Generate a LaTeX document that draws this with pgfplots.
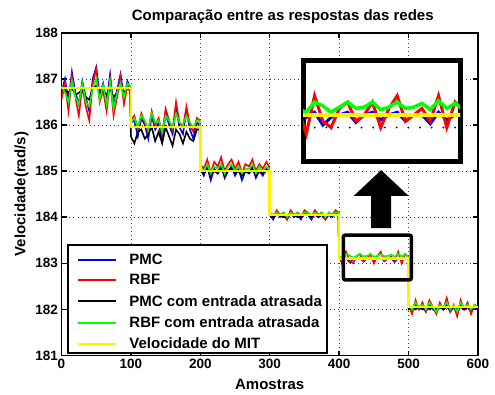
\documentclass[border=0pt]{standalone}
\usepackage{fontspec}
\setmainfont{Liberation Sans}
\usepackage{pgfplots}
\usepackage{pgfplotstable}
\pgfplotsset{compat=1.18}

\pgfplotstableread{
x pmc rbf pmcd rbfd
0 186.70 186.55 186.80 186.85
5 187.00 186.90 186.75 186.70
10 186.50 186.30 186.70 186.50
15 187.15 187.05 186.80 186.95
20 186.70 186.60 186.65 186.60
25 186.45 186.20 186.70 186.45
30 186.95 186.85 186.75 186.90
35 186.60 186.40 186.60 186.50
40 186.30 186.10 186.55 186.40
45 187.00 186.90 186.80 186.80
50 187.25 187.20 186.85 187.00
55 186.65 186.50 186.70 186.55
60 186.90 186.75 186.75 186.85
65 186.50 186.30 186.65 186.45
70 187.10 187.00 186.80 186.95
75 186.40 186.20 186.60 186.35
80 186.75 186.60 186.70 186.70
85 187.10 187.05 186.85 186.90
90 186.60 186.45 186.70 186.60
95 186.95 186.85 186.80 186.90
99 186.80 186.70 186.80 186.85
100 186.05 186.10 185.75 186.05
105 186.10 186.20 185.60 186.15
110 185.75 185.90 185.85 185.95
115 186.15 186.25 185.90 186.20
120 186.00 186.05 185.70 186.10
125 185.70 185.85 185.80 185.90
130 186.20 186.30 185.95 186.25
135 185.90 186.00 185.65 186.05
140 186.05 186.15 185.85 186.10
145 185.65 185.80 185.60 185.85
150 186.25 186.35 185.95 186.20
155 186.00 186.10 185.75 186.10
160 185.80 185.90 185.55 185.95
165 186.35 186.50 185.90 186.25
170 185.95 186.05 185.80 186.05
175 185.80 185.95 185.60 186.00
180 186.30 186.40 185.85 186.20
185 185.90 186.00 185.70 186.05
190 185.70 185.85 185.65 185.95
195 186.05 186.15 185.90 186.10
199 186.00 186.10 185.90 186.10
200 185.05 185.15 185.00 185.10
205 184.90 185.05 184.95 185.00
210 185.10 185.25 185.05 185.15
215 184.80 184.95 184.90 184.95
220 185.05 185.20 185.00 185.10
225 184.95 185.10 184.95 185.05
230 185.15 185.30 185.05 185.15
235 184.85 185.00 184.90 184.95
240 185.00 185.15 185.00 185.10
245 185.10 185.25 185.05 185.15
250 184.90 185.05 184.95 185.00
255 185.05 185.20 185.00 185.10
260 184.80 184.95 184.90 184.95
265 185.00 185.15 185.00 185.05
270 184.95 185.10 184.95 185.05
275 185.10 185.25 185.05 185.15
280 184.85 185.00 184.90 184.95
285 185.00 185.15 185.00 185.10
290 184.90 185.05 184.95 185.00
295 185.05 185.20 185.00 185.10
299 185.00 185.10 185.00 185.05
300 184.05 184.10 184.05 184.10
305 183.95 184.00 184.00 184.05
310 184.10 184.15 184.05 184.10
315 184.00 184.05 184.05 184.05
320 184.05 184.10 184.00 184.10
325 183.95 183.95 184.00 184.00
330 184.10 184.15 184.05 184.10
335 184.00 184.05 184.05 184.05
340 184.05 184.10 184.00 184.10
345 183.95 184.00 184.00 184.05
350 184.10 184.15 184.05 184.10
355 184.05 184.10 184.05 184.10
360 183.95 184.00 184.00 184.05
365 184.10 184.15 184.05 184.10
370 184.00 184.05 184.00 184.05
375 184.05 184.10 184.05 184.10
380 183.95 183.95 184.00 184.00
385 184.05 184.10 184.05 184.10
390 184.00 184.05 184.05 184.05
395 184.10 184.15 184.05 184.10
399 184.05 184.10 184.05 184.10
400 183.10 183.15 183.10 183.15
405 183.08 182.95 183.10 183.12
410 183.12 183.25 183.10 183.20
415 183.02 183.05 183.10 183.17
420 183.08 183.00 183.10 183.12
425 183.10 183.15 183.10 183.16
430 183.12 183.20 183.10 183.20
435 183.04 183.05 183.10 183.15
440 183.10 183.10 183.10 183.16
445 183.12 183.20 183.10 183.20
450 183.06 183.00 183.10 183.14
455 183.10 183.15 183.10 183.16
460 183.12 183.25 183.10 183.20
465 183.05 183.05 183.10 183.15
470 183.10 183.10 183.10 183.16
475 183.10 183.15 183.10 183.19
480 183.03 183.05 183.10 183.14
485 183.12 183.25 183.10 183.21
490 183.06 183.00 183.10 183.15
495 183.10 183.20 183.10 183.19
499 183.10 183.15 183.10 183.15
500 182.05 182.10 182.00 182.10
505 181.95 181.90 182.05 182.00
510 182.10 182.20 182.00 182.15
515 182.00 182.00 182.05 182.05
520 182.05 182.15 182.00 182.10
525 181.95 181.95 182.05 182.00
530 182.10 182.20 182.00 182.15
535 182.00 182.05 182.05 182.05
540 181.95 181.90 182.00 181.95
545 182.05 182.15 182.05 182.10
550 182.00 182.00 182.00 182.05
555 182.10 182.25 182.05 182.15
560 181.95 181.95 182.00 182.00
565 182.05 182.10 182.05 182.10
570 181.90 181.85 182.00 181.95
575 182.10 182.20 182.05 182.15
580 182.00 182.00 182.00 182.05
585 182.05 182.15 182.05 182.10
590 181.95 181.90 182.00 182.00
595 182.05 182.10 182.05 182.10
600 182.00 182.05 182.05 182.05
}\data

\pgfplotstableread{
x v
0 186.8
100 186.8
100 185.95
200 185.95
200 185.0
300 185.0
300 184.05
400 184.05
400 183.1
500 183.1
500 182.05
600 182.05
}\mit

\begin{document}
\begin{tikzpicture}
\begin{axis}[
  at={(0pt,0pt)}, anchor=south west,
  width=416.5pt, height=322.8pt, scale only axis,
  xmin=0, xmax=600, ymin=181, ymax=188,
  xtick={0,100,...,600}, ytick={181,182,...,188},
  xticklabels={0,100,200,300,400,500,600},
  yticklabels={181,182,183,184,185,186,187,188},
  grid=major,
  grid style={black!75, line width=0.6pt, dash pattern=on 0.8pt off 3.2pt},
  axis line style={line width=1.8pt},
  tick style={line width=1.4pt, black}, major tick length=5pt, tick align=inside,
  /pgf/number format/assume math mode=true,
  tick label style={font=\fontsize{13.5}{15}\selectfont\bfseries},
  title={Comparação entre as respostas das redes},
  title style={font=\fontsize{15}{17}\selectfont\bfseries, xshift=13pt},
  xlabel={Amostras}, ylabel={Velocidade(rad/s)},
  label style={font=\fontsize{15}{17}\selectfont\bfseries},
  xlabel style={yshift=-4pt},
  legend cell align=left,
  legend style={draw=none, fill=none, at={(axis description cs:0.0372,0.322)}, anchor=north west,
    font=\fontsize{15}{17}\selectfont\bfseries, row sep=4.8pt, inner sep=0pt},
  legend image code/.code={\draw[#1, line width=2pt] (0pt,0pt) -- (38pt,0pt); \path (48pt,0pt);},
]
\addplot[blue, line width=1.6pt] table[x=x, y=pmc]{\data};
\addplot[red, line width=1.6pt] table[x=x, y=rbf]{\data};
\addplot[black, line width=1.6pt] table[x=x, y=pmcd]{\data};
\addplot[green, line width=1.6pt] table[x=x, y=rbfd]{\data};
\addplot[yellow, line width=2.5pt] table[x=x, y=v]{\mit};
\legend{PMC, RBF, PMC com entrada atrasada, RBF com entrada atrasada, Velocidade do MIT}
\draw[line width=1.8pt, fill=white] (axis description cs:0.0156,0.0077) rectangle (axis description cs:0.6375,0.342);
\draw[line width=3.5pt, rounded corners=2pt] (axis cs:406,183.61) rectangle (axis cs:504,182.64);
\fill[black] (axis cs:446.1,183.76) -- (axis cs:474.9,183.76) -- (axis cs:474.9,184.46) -- (axis cs:500.1,184.46) -- (axis cs:460.5,185.02) -- (axis cs:420.9,184.46) -- (axis cs:446.1,184.46) -- cycle;
\end{axis}
\begin{axis}[
  at={(241.5pt,193.5pt)}, anchor=south west,
  width=157pt, height=102pt, scale only axis,
  xmin=403, xmax=498, ymin=182.73, ymax=183.53,
  xtick=\empty, ytick={183}, yticklabels={},
  ymajorgrids,
  grid style={black, line width=2pt, dash pattern=on 0pt off 11.7pt, line cap=round},
  major tick length=0pt,
  axis line style={line width=5pt},
  axis background/.style={fill=white},
]
\addplot[blue, line width=3pt] table[x=x, y=pmc]{\data};
\addplot[red, line width=3pt] table[x=x, y=rbf]{\data};
\addplot[black, line width=3pt] table[x=x, y=pmcd]{\data};
\addplot[green, line width=3.5pt] table[x=x, y=rbfd]{\data};
\addplot[yellow, line width=4.5pt] table[x=x, y=v]{\mit};
\end{axis}
\pgfresetboundingbox
\path[use as bounding box] (-61.5pt,-38.5pt) rectangle (433.5pt,355.5pt);
\end{tikzpicture}
\end{document}
